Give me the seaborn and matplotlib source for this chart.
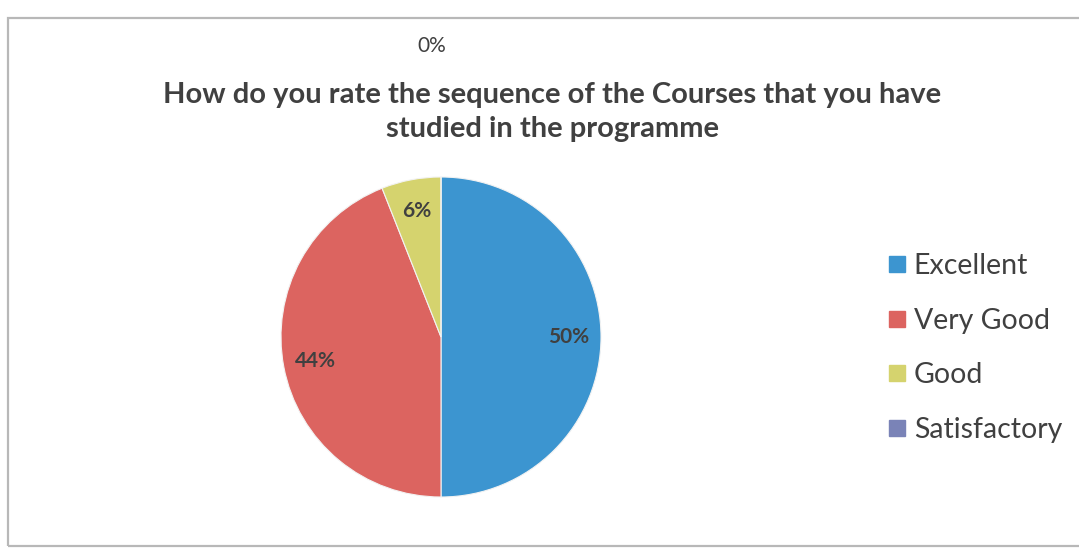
import numpy as np
import matplotlib
matplotlib.use("Agg")
import matplotlib.pyplot as plt
import matplotlib.patches as mpatches
from matplotlib.lines import Line2D
import seaborn as sns

# survey data
categories = ['Excellent', 'Very Good', 'Good', 'Satisfactory']
shares = [50, 44, 6, 0]
pct_labels = ['50%', '44%', '6%', '0%']
title = 'How do you rate the sequence of the Courses that you have\nstudied in the programme'

sns.set_theme(style='white')
plt.rcParams['font.family'] = ['Lato', 'DejaVu Sans']
colors = sns.color_palette(['#3c95d0', '#dc6460', '#d5d36e', '#7a83b7'])

W, H = 1079, 560
fig = plt.figure(figsize=(W / 100, H / 100), dpi=100)

# chart frame (scan border)
fig.patches.append(mpatches.Rectangle((8 / W, 1 - 546 / H), 1.2, (546 - 18) / H,
                                      transform=fig.transFigure, fill=False,
                                      edgecolor='#b8b8b8', linewidth=1.6))

# pie axes: centre (441, 337) px, radius 160 px
cx, cy, r = 441, 337, 160
ax = fig.add_axes([(cx - r) / W, (H - cy - r) / H, 2 * r / W, 2 * r / H])
wedges, _ = ax.pie(shares, colors=colors, startangle=90, counterclock=False,
                   radius=1.0, wedgeprops=dict(linewidth=0.8, edgecolor='#f2f2f2'))
ax.set_xlim(-1, 1)
ax.set_ylim(-1, 1)
ax.set_aspect('auto')
ax.axis('off')

# percentage labels at wedge mid-angles
angle = 90.0
total = sum(shares)
for w, s, lab in zip(wedges, shares, pct_labels):
    span = 360.0 * s / total
    mid = np.deg2rad(angle - span / 2)
    angle -= span
    if s > 0:
        x, y = 0.8 * np.cos(mid), 0.8 * np.sin(mid)
        ax.text(x, y, lab, ha='center', va='center', fontsize=15, fontweight='bold',
                color='#404040')
    else:
        # zero slice: label pushed out above the title
        ax.text(-0.06, 1.82, lab, ha='center', va='center', fontsize=15,
                color='#404040', clip_on=False)

fig.text(552 / W, 1 - 112 / H, title, ha='center', va='center', fontsize=21,
         fontweight='bold', color='#404040', linespacing=1.35)

handles = [Line2D([0], [0], marker='s', linestyle='', markersize=12,
                  markerfacecolor=c, markeredgecolor=c) for c in colors]
fig.legend(handles, categories, loc='center left',
           bbox_to_anchor=(871 / W, 1 - 348 / H), frameon=False, fontsize=20.5,
           labelcolor='#404040', handletextpad=0.1, labelspacing=1.0,
           handlelength=1.0, borderaxespad=0)

fig.savefig('out.png', dpi=100)
